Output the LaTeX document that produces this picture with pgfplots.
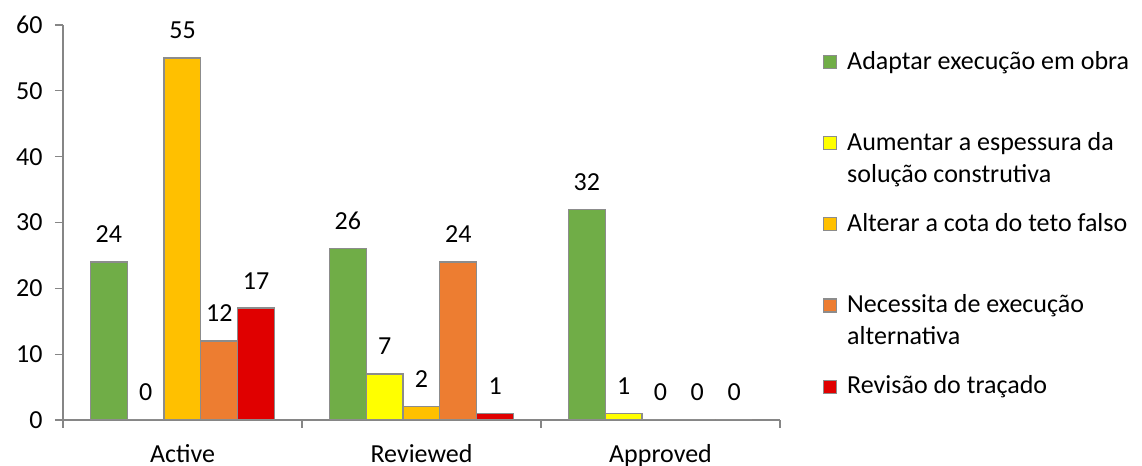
\documentclass[border=0pt]{standalone}
\usepackage{pgfplots}
\pgfplotsset{compat=1.18}
\usepackage{fontspec}
\setmainfont{Carlito}
\definecolor{cGreen}{HTML}{70AD47}
\definecolor{cYellow}{HTML}{FFFF00}
\definecolor{cGold}{HTML}{FFC000}
\definecolor{cOrange}{HTML}{ED7D31}
\definecolor{cRed}{HTML}{E00000}
\definecolor{cAxis}{HTML}{868686}
\definecolor{cEdge}{HTML}{8C8C8C}
\newcommand{\chartfont}{\fontsize{13}{15.9}\selectfont}
\newcommand{\legtext}[1]{\parbox[t]{160pt}{\strut#1}}
\pgfplotsset{
  sq/.style={legend image code/.code={%
    \path (0pt,10.3pt);
    \draw[##1,line width=0.6pt] (0pt,0.3pt) rectangle (6.5pt,6.8pt);}}
}
\begin{document}
\begin{tikzpicture}
\begin{axis}[
  at={(0,0)}, anchor=south west,
  scale only axis, width=358.5pt, height=197.5pt,
  ybar=0pt, bar width=18.4pt,
  every axis plot post/.append style={sq},
  xmin=-0.5, xmax=2.5, ymin=0, ymax=60,
  xtick={-0.5,0.5,1.5,2.5}, xticklabels={,,,},
  extra x ticks={0,1,2},
  extra x tick labels={Active,Reviewed,Approved},
  extra x tick style={major tick length=0pt, xticklabel style={anchor=base, yshift=-21.5pt}},
  ytick={0,10,...,60},
  axis x line*=bottom, axis y line*=left,
  axis line style={cAxis, line width=0.6pt, -},
  tick align=outside, major tick length=4pt,
  tick style={cAxis, line width=0.6pt},
  tick label style={font=\chartfont, text=black},
  yticklabel style={anchor=east, inner sep=0pt, xshift=-6pt},
  /pgf/number format/assume math mode=true,
  nodes near coords,
  every node near coord/.append style={anchor=base, yshift=9.5pt, font=\chartfont, text=black},
  every axis plot/.append style={draw=cEdge, line width=0.6pt},
  legend style={at={(1.05997,0.9449)}, anchor=north west, draw=none, fill=none,
    inner sep=0pt, outer sep=0pt, font=\chartfont,
    row sep={40.6pt,between origins}, column sep=5pt,
    cells={anchor=base west, inner sep=0pt}, nodes={inner sep=0pt}},
]
\addplot[fill=cGreen] coordinates {(0,24) (1,26) (2,32)};
\addlegendentry{\legtext{Adaptar execução em obra}}
\addplot[fill=cYellow] coordinates {(0,0) (1,7) (2,1)};
\addlegendentry{\legtext{Aumentar a espessura da\\solução construtiva}}
\addplot[fill=cGold] coordinates {(0,55) (1,2) (2,0)};
\addlegendentry{\legtext{Alterar a cota do teto falso}}
\addplot[fill=cOrange] coordinates {(0,12) (1,24) (2,0)};
\addlegendentry{\legtext{Necessita de execução\\alternativa}}
\addplot[fill=cRed] coordinates {(0,17) (1,1) (2,0)};
\addlegendentry{\legtext{Revisão do traçado}}
\end{axis}
\pgfresetboundingbox
\useasboundingbox (-31.5pt,-23pt) rectangle (539.5pt,210pt);
\end{tikzpicture}
\end{document}
